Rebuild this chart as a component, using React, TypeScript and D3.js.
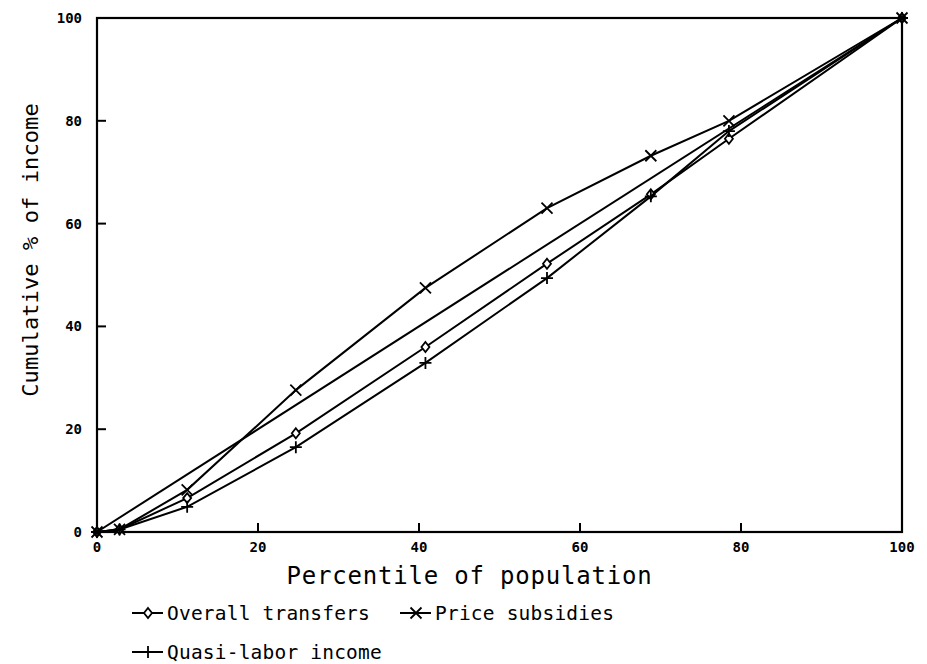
import * as d3 from "d3";
import React from "react";

// percentile of population (x) and cumulative % of income (y)
const percentiles = [0, 2.8, 11.2, 24.7, 40.8, 55.9, 68.8, 78.5, 100];
const overallTransfers = [0, 0.5, 6.6, 19.2, 36.0, 52.2, 65.7, 76.5, 100];
const priceSubsidies = [0, 0.5, 8.2, 27.6, 47.5, 63.0, 73.2, 80.0, 100];
const quasiLaborIncome = [0, 0.5, 4.9, 16.5, 32.9, 49.4, 65.3, 78.0, 100];
const equalityX = [0, 100];
const equalityY = [0, 100];
const ticks = [0, 20, 40, 60, 80, 100];

const labels = {
	x: "Percentile of population",
	y: "Cumulative % of income",
	overall: "Overall transfers",
	price: "Price subsidies",
	quasi: "Quasi-labor income",
};

type Marker = "diamond" | "cross" | "plus";

const W = 927;
const H = 664;
const plot = { left: 97, right: 902, top: 18, bottom: 532 };
const mono = "'DejaVu Sans Mono', 'Liberation Mono', monospace";

const x = d3.scaleLinear().domain([0, 100]).range([plot.left, plot.right]);
const y = d3.scaleLinear().domain([0, 100]).range([plot.bottom, plot.top]);

const markerPath = (m: Marker, cx: number, cy: number) => {
	if (m === "diamond") {
		return `M${cx},${cy - 5}L${cx + 4},${cy}L${cx},${cy + 5}L${cx - 4},${cy}Z`;
	}
	if (m === "cross") {
		const s = 5.5;
		return `M${cx - s},${cy - s}L${cx + s},${cy + s}M${cx - s},${cy + s}L${cx + s},${cy - s}`;
	}
	const s = 6;
	return `M${cx - s},${cy}L${cx + s},${cy}M${cx},${cy - s}L${cx},${cy + s}`;
};

const series: { name: string; values: number[]; marker: Marker }[] = [
	{ name: labels.overall, values: overallTransfers, marker: "diamond" },
	{ name: labels.price, values: priceSubsidies, marker: "cross" },
	{ name: labels.quasi, values: quasiLaborIncome, marker: "plus" },
];

const line = d3
	.line<[number, number]>()
	.x((d) => x(d[0]))
	.y((d) => y(d[1]));

const LegendItem = ({
	lx,
	ly,
	marker,
	text,
}: {
	lx: number;
	ly: number;
	marker: Marker;
	text: string;
}) => (
	<g>
		<line x1={lx} x2={lx + 31} y1={ly} y2={ly} stroke="#000" strokeWidth={2} />
		<path
			d={markerPath(marker, lx + 16, ly)}
			fill={marker === "diamond" ? "#fff" : "none"}
			stroke="#000"
			strokeWidth={1.8}
		/>
		<text
			x={lx + 35}
			y={ly}
			dy="0.36em"
			fontFamily={mono}
			fontSize={19.5}
			letterSpacing={0.2}
		>
			{text}
		</text>
	</g>
);

export default function App() {
	return (
		<svg
			width={W}
			height={H}
			viewBox={`0 0 ${W} ${H}`}
			style={{ position: "absolute", left: 0, top: 0, background: "#fff" }}
		>
			{/* frame */}
			<rect
				x={plot.left}
				y={plot.top}
				width={plot.right - plot.left}
				height={plot.bottom - plot.top}
				fill="none"
				stroke="#000"
				strokeWidth={2.2}
			/>
			{/* ticks */}
			{ticks.slice(1, -1).map((t) => (
				<g key={"t" + t}>
					<line x1={x(t)} x2={x(t)} y1={plot.bottom} y2={plot.bottom - 9} stroke="#000" strokeWidth={2} />
					<line x1={plot.left} x2={plot.left + 9} y1={y(t)} y2={y(t)} stroke="#000" strokeWidth={2} />
				</g>
			))}
			{ticks.map((t) => (
				<g key={"l" + t} fontFamily={mono} fontSize={14} fontWeight="bold">
					<text x={x(t)} y={plot.bottom + 15} dy="0.35em" textAnchor="middle">
						{t}
					</text>
					<text x={plot.left - 15} y={y(t)} dy="0.35em" textAnchor="end">
						{t}
					</text>
				</g>
			))}
			{/* axis titles */}
			<text
				x={(plot.left + plot.right) / 2 - 30}
				y={584}
				textAnchor="middle"
				fontFamily={mono}
				fontSize={24}
				letterSpacing={0.8}
			>
				{labels.x}
			</text>
			<text
				transform={`translate(30,${250}) rotate(-90)`}
				textAnchor="middle"
				dy="0.35em"
				fontFamily={mono}
				fontSize={22}
				letterSpacing={0.1}
			>
				{labels.y}
			</text>
			{/* line of equality */}
			<path
				d={line(equalityX.map((v, i) => [v, equalityY[i]]) as [number, number][]) ?? ""}
				fill="none"
				stroke="#000"
				strokeWidth={2}
			/>
			{/* series */}
			{series.map((s) => (
				<g key={s.name}>
					<path
						d={line(percentiles.map((p, i) => [p, s.values[i]]) as [number, number][]) ?? ""}
						fill="none"
						stroke="#000"
						strokeWidth={2}
					/>
					{percentiles.map((p, i) => (
						<path
							key={i}
							d={markerPath(s.marker, x(p), y(s.values[i]))}
							fill={s.marker === "diamond" ? "#fff" : "none"}
							stroke="#000"
							strokeWidth={1.8}
						/>
					))}
				</g>
			))}
			{/* legend */}
			<LegendItem lx={132} ly={613} marker="diamond" text={labels.overall} />
			<LegendItem lx={400} ly={613} marker="cross" text={labels.price} />
			<LegendItem lx={132} ly={652} marker="plus" text={labels.quasi} />
		</svg>
	);
}
